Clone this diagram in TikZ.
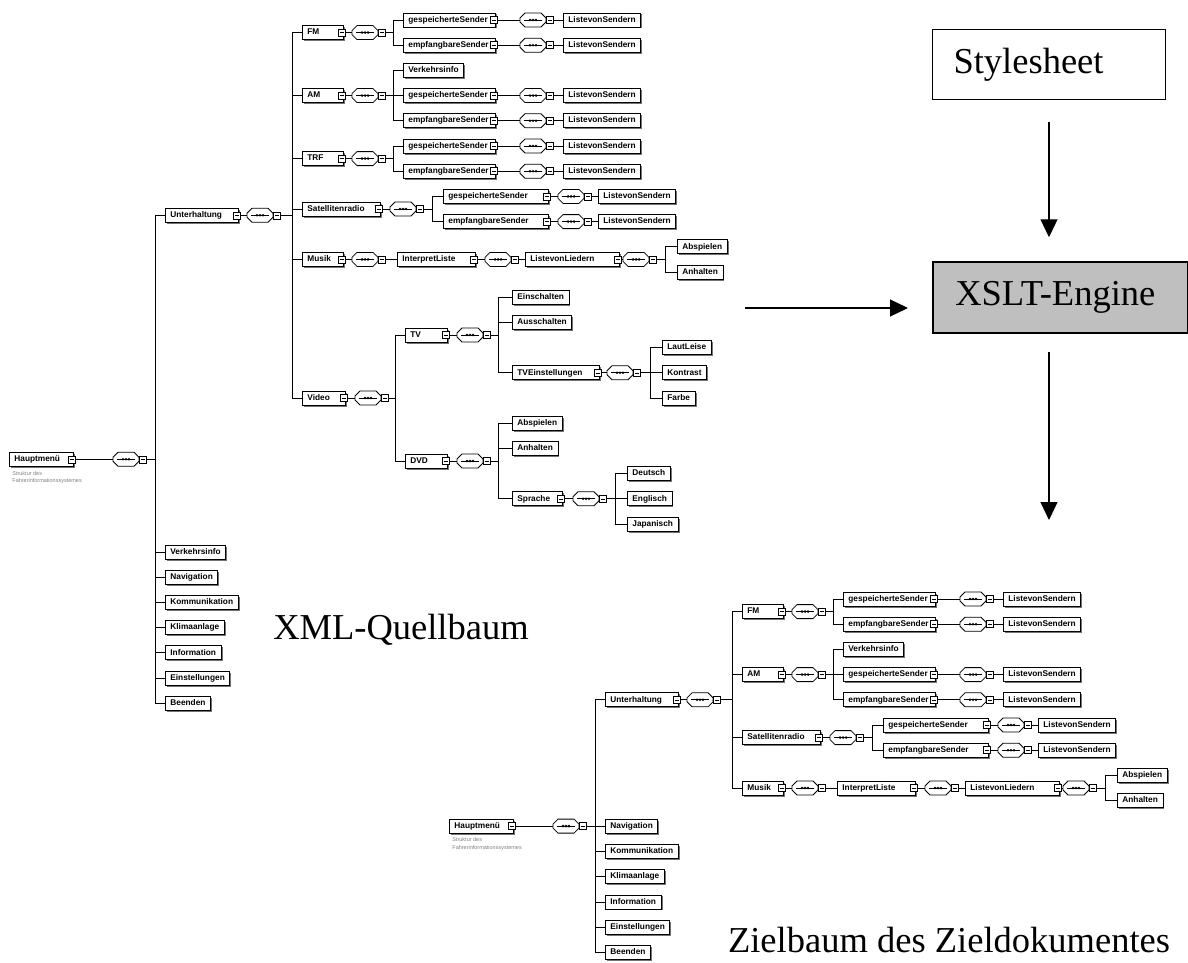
\documentclass[tikz,border=0pt]{standalone}
\usepackage{fontspec}
\newfontfamily\xsfont{Liberation Sans}
\newfontfamily\tmfont{Liberation Serif}
\usetikzlibrary{calc,shadows,arrows.meta}

\newcommand{\padtext}[2]{\setbox0\hbox{#2}\ifdim\wd0<\dimexpr#1pt-10pt\relax\makebox[\dimexpr#1pt-10pt\relax][l]{#2}\else\box0\fi}
\newcommand{\elnode}[7]{%
  \node[elem] (#1) at (#2,#3) {\padtext{#4}{#5}};
  \node[mbox] (#1-m) at ([xshift=-2pt]#1.east) {};
  \draw[fill=white] (#6-13,#3-2) -- (#6-8,#3-7) -- (#6+8,#3-7) -- (#6+13,#3-2) -- (#6+13,#3+2)
    -- (#6+8,#3+7) -- (#6-8,#3+7) -- (#6-13,#3+2) -- cycle;
  \node[seq] (#1-s) at (#6,#3) {};
  \node[mbox] (#1-sm) at ([xshift=3.5pt]#1-s.east) {};
  \coordinate (#1-b) at (#7,#3);
  \draw (#1-m) -- (#1-s) (#1-sm) -- (#1-b);}
\newcommand{\leafnode}[4]{\node[elem] (#1) at (#2,#3) {#4};}

\begin{document}
\begin{tikzpicture}[x=1pt, y=-1pt, line width=0.8pt]
		\tikzstyle{elem}=[draw, fill=white, anchor=west, font=\xsfont\bfseries\fontsize{8.3}{9}\selectfont,
			inner xsep=5pt, inner ysep=0pt, text height=6pt, text depth=1.6pt, minimum height=14pt,
			drop shadow={shadow xshift=1.5pt, shadow yshift=-1.5pt, fill=black!55, opacity=1}]
		\tikzstyle{mbox}=[draw, fill=white, minimum size=7pt, inner sep=0pt, line width=0.6pt,
			path picture={\draw ([xshift=1.5pt]path picture bounding box.west) -- ([xshift=-1.5pt]path picture bounding box.east);}]
		\tikzstyle{seq}=[minimum width=26pt, minimum height=14pt, inner sep=0pt,
			path picture={\draw[black] ([xshift=4pt]path picture bounding box.west) -- ([xshift=-4pt]path picture bounding box.east);
				\fill[black] (path picture bounding box.center) circle (1.4pt) ([xshift=-3pt]path picture bounding box.center) circle (1.4pt)
				([xshift=3pt]path picture bounding box.center) circle (1.4pt);}]
		\tikzstyle{sub}=[anchor=north west, align=left, inner sep=0pt, text=black!50, font=\xsfont\fontsize{5.5}{7.5}\selectfont]
		\tikzstyle{bigtxt}=[font=\tmfont\fontsize{36.5}{40}\selectfont, inner sep=0pt]
		\tikzstyle{bigbox}=[bigtxt, draw, anchor=west, minimum height=70pt, align=left]
		\tikzstyle{arr}=[line width=1.2pt, -{Triangle[length=18pt,width=17pt]}]
		\useasboundingbox (0,0) rectangle (1188,963);

		% XML-Quellbaum
		\elnode{hm}{9}{459.3}{64}{Hauptmenü}{126}{155}
		\node[sub] (hm-t) at ([xshift=3pt,yshift=-4pt]hm.south west) {Struktur des\\Fahrerinformationssystemes};
		\elnode{unt}{165}{215.3}{73}{Unterhaltung}{260}{292}
		\leafnode{verk}{165}{552}{Verkehrsinfo}
		\leafnode{navi}{165}{577.2}{Navigation}
		\leafnode{komm}{165}{602.4}{Kommunikation}
		\leafnode{klima}{165}{627.6}{Klimaanlage}
		\leafnode{info}{165}{652.8}{Information}
		\leafnode{einst}{165}{678}{Einstellungen}
		\leafnode{beend}{165}{703.2}{Beenden}
		\draw (hm-b) |- (unt.west) (hm-b) |- (verk.west) (hm-b) |- (navi.west) (hm-b) |- (komm.west)
			(hm-b) |- (klima.west) (hm-b) |- (info.west) (hm-b) |- (einst.west) (hm-b) |- (beend.west);

		\elnode{fm}{302}{32.6}{41}{FM}{365}{393}
		\elnode{am}{302}{95.6}{41}{AM}{365}{393}
		\elnode{trf}{302}{158.6}{41}{TRF}{365}{393}
		\elnode{sat}{302}{209}{78}{Satellitenradio}{403}{432}
		\elnode{musik}{302}{259.4}{41}{Musik}{365}{397}
		\elnode{video}{302}{398}{43}{Video}{368}{395}
		\draw (unt-b) |- (fm.west) (unt-b) |- (am.west) (unt-b) |- (trf.west)
			(unt-b) |- (sat.west) (unt-b) |- (musik.west) (unt-b) |- (video.west);

		\elnode{fmgs}{403}{20}{92}{gespeicherteSender}{533}{563}
		\leafnode{fmgsl}{563}{20}{ListevonSendern}
		\elnode{fmes}{403}{45.2}{92}{empfangbareSender}{533}{563}
		\leafnode{fmesl}{563}{45.2}{ListevonSendern}
		\draw (fm-b) |- (fmgs.west) (fm-b) |- (fmes.west);

		\leafnode{amvk}{403}{70.4}{Verkehrsinfo}
		\elnode{amgs}{403}{95.6}{92}{gespeicherteSender}{533}{563}
		\leafnode{amgsl}{563}{95.6}{ListevonSendern}
		\elnode{ames}{403}{120.8}{92}{empfangbareSender}{533}{563}
		\leafnode{amesl}{563}{120.8}{ListevonSendern}
		\draw (am-b) |- (amvk.west) (am-b) |- (amgs.west) (am-b) |- (ames.west);

		\elnode{trfgs}{403}{146}{92}{gespeicherteSender}{533}{563}
		\leafnode{trfgsl}{563}{146}{ListevonSendern}
		\elnode{trfes}{403}{171.2}{92}{empfangbareSender}{533}{563}
		\leafnode{trfesl}{563}{171.2}{ListevonSendern}
		\draw (trf-b) |- (trfgs.west) (trf-b) |- (trfes.west);

		\elnode{satgs}{443}{196.4}{105}{gespeicherteSender}{571}{598}
		\leafnode{satgsl}{598}{196.4}{ListevonSendern}
		\elnode{sates}{443}{221.6}{105}{empfangbareSender}{571}{598}
		\leafnode{satesl}{598}{221.6}{ListevonSendern}
		\draw (sat-b) |- (satgs.west) (sat-b) |- (sates.west);

		\elnode{ipl}{397}{259.4}{78}{InterpretListe}{498}{525}
		\elnode{lvl}{525}{259.4}{94}{ListevonLiedern}{636}{665}
		\leafnode{lvlab}{677}{246.8}{Abspielen}
		\leafnode{lvlan}{677}{272}{Anhalten}
		\draw (lvl-b) |- (lvlab.west) (lvl-b) |- (lvlan.west);

		\elnode{tv}{405}{335}{42}{TV}{470}{498}
		\elnode{dvd}{405}{461}{42}{DVD}{470}{498}
		\draw (video-b) |- (tv.west) (video-b) |- (dvd.west);
		\leafnode{tvein}{512}{297.2}{Einschalten}
		\leafnode{tvaus}{512}{322.4}{Ausschalten}
		\elnode{tve}{512}{372.8}{87}{TVEinstellungen}{620}{650}
		\draw (tv-b) |- (tvein.west) (tv-b) |- (tvaus.west) (tv-b) |- (tve.west);
		\leafnode{laut}{662}{347.6}{LautLeise}
		\leafnode{kontr}{662}{372.8}{Kontrast}
		\leafnode{farbe}{662}{398}{Farbe}
		\draw (tve-b) |- (laut.west) (tve-b) |- (kontr.west) (tve-b) |- (farbe.west);
		\leafnode{dvdab}{512}{423.2}{Abspielen}
		\leafnode{dvdan}{512}{448.4}{Anhalten}
		\elnode{spr}{512}{498.8}{50}{Sprache}{586}{615}
		\draw (dvd-b) |- (dvdab.west) (dvd-b) |- (dvdan.west) (dvd-b) |- (spr.west);
		\leafnode{deu}{627}{473.6}{Deutsch}
		\leafnode{eng}{627}{498.8}{Englisch}
		\leafnode{jap}{627}{524}{Japanisch}
		\draw (spr-b) |- (deu.west) (spr-b) |- (eng.west) (spr-b) |- (jap.west);

		% Zielbaum
		\begin{scope}[xshift=440pt]
		\elnode{zhm}{9}{826.1}{64}{Hauptmenü}{126}{155}
		\node[sub] (zhm-t) at ([xshift=3pt,yshift=-4pt]zhm.south west) {Struktur des\\Fahrerinformationssystemes};
		\elnode{zunt}{165}{699.8}{73}{Unterhaltung}{260}{292}
		\leafnode{znavi}{165}{826}{Navigation}
		\leafnode{zkomm}{165}{851.3}{Kommunikation}
		\leafnode{zklima}{165}{876.6}{Klimaanlage}
		\leafnode{zinfo}{165}{901.9}{Information}
		\leafnode{zeinst}{165}{927.2}{Einstellungen}
		\leafnode{zbeend}{165}{952.5}{Beenden}
		\draw (zhm-b) |- (zunt.west) (zhm-b) |- (znavi.west) (zhm-b) |- (zkomm.west)
			(zhm-b) |- (zklima.west) (zhm-b) |- (zinfo.west) (zhm-b) |- (zeinst.west) (zhm-b) |- (zbeend.west);

		\elnode{zfm}{302}{611.6}{41}{FM}{365}{393}
		\elnode{zam}{302}{674.6}{41}{AM}{365}{393}
		\elnode{zsat}{302}{737.6}{78}{Satellitenradio}{403}{432}
		\elnode{zmusik}{302}{788}{41}{Musik}{365}{397}
		\draw (zunt-b) |- (zfm.west) (zunt-b) |- (zam.west) (zunt-b) |- (zsat.west) (zunt-b) |- (zmusik.west);

		\elnode{zfmgs}{403}{599}{92}{gespeicherteSender}{533}{563}
		\leafnode{zfmgsl}{563}{599}{ListevonSendern}
		\elnode{zfmes}{403}{624.2}{92}{empfangbareSender}{533}{563}
		\leafnode{zfmesl}{563}{624.2}{ListevonSendern}
		\draw (zfm-b) |- (zfmgs.west) (zfm-b) |- (zfmes.west);

		\leafnode{zamvk}{403}{649.4}{Verkehrsinfo}
		\elnode{zamgs}{403}{674.6}{92}{gespeicherteSender}{533}{563}
		\leafnode{zamgsl}{563}{674.6}{ListevonSendern}
		\elnode{zames}{403}{699.8}{92}{empfangbareSender}{533}{563}
		\leafnode{zamesl}{563}{699.8}{ListevonSendern}
		\draw (zam-b) |- (zamvk.west) (zam-b) |- (zamgs.west) (zam-b) |- (zames.west);

		\elnode{zsatgs}{443}{725}{105}{gespeicherteSender}{571}{598}
		\leafnode{zsatgsl}{598}{725}{ListevonSendern}
		\elnode{zsates}{443}{750.2}{105}{empfangbareSender}{571}{598}
		\leafnode{zsatesl}{598}{750.2}{ListevonSendern}
		\draw (zsat-b) |- (zsatgs.west) (zsat-b) |- (zsates.west);

		\elnode{zipl}{397}{788}{78}{InterpretListe}{498}{525}
		\elnode{zlvl}{525}{788}{94}{ListevonLiedern}{636}{665}
		\leafnode{zlvlab}{677}{775.4}{Abspielen}
		\leafnode{zlvlan}{677}{800.6}{Anhalten}
		\draw (zlvl-b) |- (zlvlab.west) (zlvl-b) |- (zlvlan.west);
		\end{scope}

		% Transformation
		\node[bigbox, text width=191pt, inner xsep=21pt, line width=1pt] (style) at (932,65) {Stylesheet};
		\node[bigbox, fill=black!25, line width=1.5pt, text width=210pt, inner xsep=22.5pt, minimum height=71pt] (xslt) at (932,297.5) {\mbox{XSLT-Engine}};
		\coordinate (src) at (745,308);
		\coordinate (outtop) at (1049,352);
		\coordinate (out) at (1049,520);
		\draw[arr, shorten <=22pt, shorten >=24pt] (style.south) -- (style.south |- xslt.north);
		\draw[arr] (outtop) -- (out);
		\draw[arr, shorten >=24pt] (src) -- (src -| xslt.west);
		\node[bigtxt] (qb) at (401,630) {XML-Quellbaum};
		\node[bigtxt] (zb) at (949,940) {Zielbaum des Zieldokumentes};
\end{tikzpicture}
\end{document}
